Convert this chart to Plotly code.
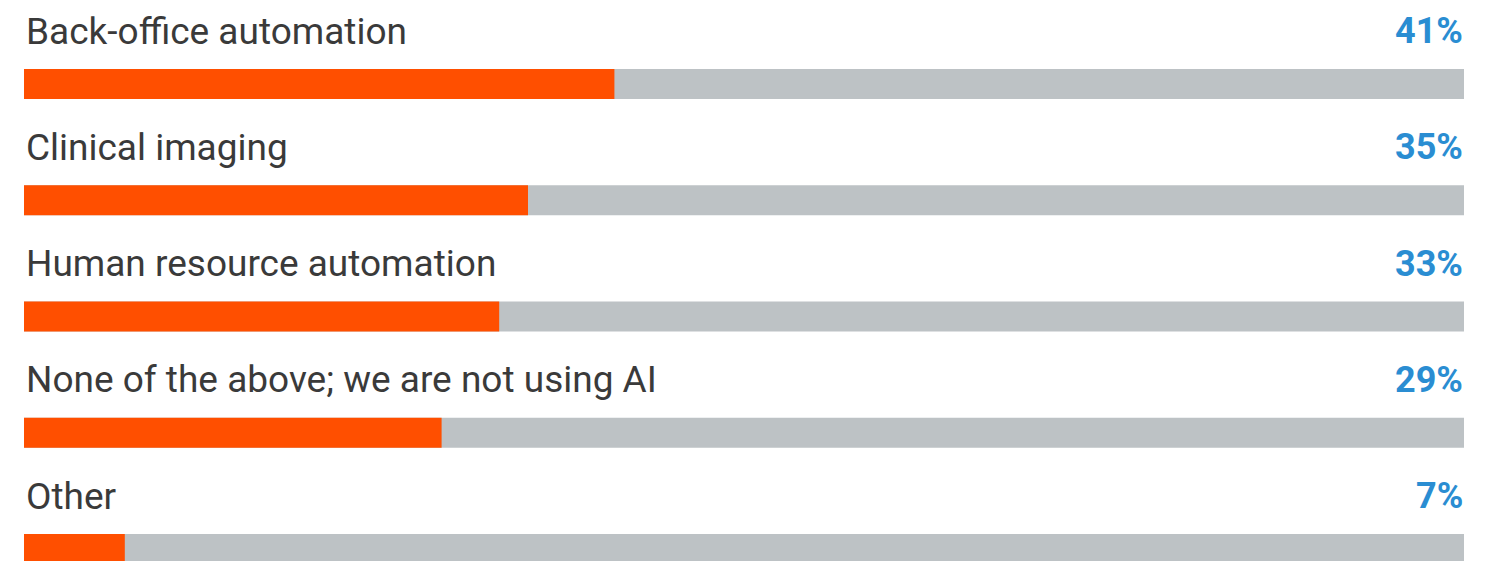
import plotly.graph_objects as go

categories = [
    "Back-office automation",
    "Clinical imaging",
    "Human resource automation",
    "None of the above; we are not using AI",
    "Other",
]
values = [41, 35, 33, 29, 7]
value_labels = ["41%", "35%", "33%", "29%", "7%"]
full_scale = [100, 100, 100, 100, 100]

W, H = 1499, 561
bar_left_px, bar_right_px = 24, 1464
first_center_px, last_center_px = 84, 549
n = len(categories)
step = (last_center_px - first_center_px) / (n - 1)
bar_px = 30

ORANGE = "#ff4f00"
GRAY = "#bdc2c5"
BLUE = "#2a8dd2"
TEXT = "#3a3a3a"

fig = go.Figure()
fig.add_trace(go.Bar(
    y=categories, x=full_scale, orientation="h",
    marker=dict(color=GRAY, line=dict(width=0)),
    width=bar_px / step, hoverinfo="skip", showlegend=False,
))
fig.add_trace(go.Bar(
    y=categories, x=values, orientation="h",
    marker=dict(color=ORANGE, line=dict(width=0)),
    width=bar_px / step, showlegend=False,
))

for cat, lab in zip(categories, value_labels):
    fig.add_annotation(
        x=0, y=cat, xref="x", yref="y", text=cat, showarrow=False,
        xanchor="left", yanchor="middle", yshift=53,
        font=dict(family="Roboto", size=37, color=TEXT),
    )
    fig.add_annotation(
        x=100, y=cat, xref="x", yref="y", text="<b>" + lab + "</b>", showarrow=False,
        xanchor="right", yanchor="middle", yshift=53, xshift=1,
        font=dict(family="Roboto", size=36, color=BLUE),
    )

r_top = -first_center_px / step
r_bottom = (H - first_center_px) / step

fig.update_layout(
    width=W, height=H,
    margin=dict(l=0, r=0, t=0, b=0),
    paper_bgcolor="white", plot_bgcolor="white",
    barmode="overlay",
    xaxis=dict(
        range=[0, 100], domain=[bar_left_px / W, bar_right_px / W],
        visible=False, fixedrange=True,
    ),
    yaxis=dict(
        type="category", range=[r_bottom, r_top],
        visible=False, fixedrange=True,
    ),
    font=dict(family="Roboto"),
)

fig.write_html("out.html")
